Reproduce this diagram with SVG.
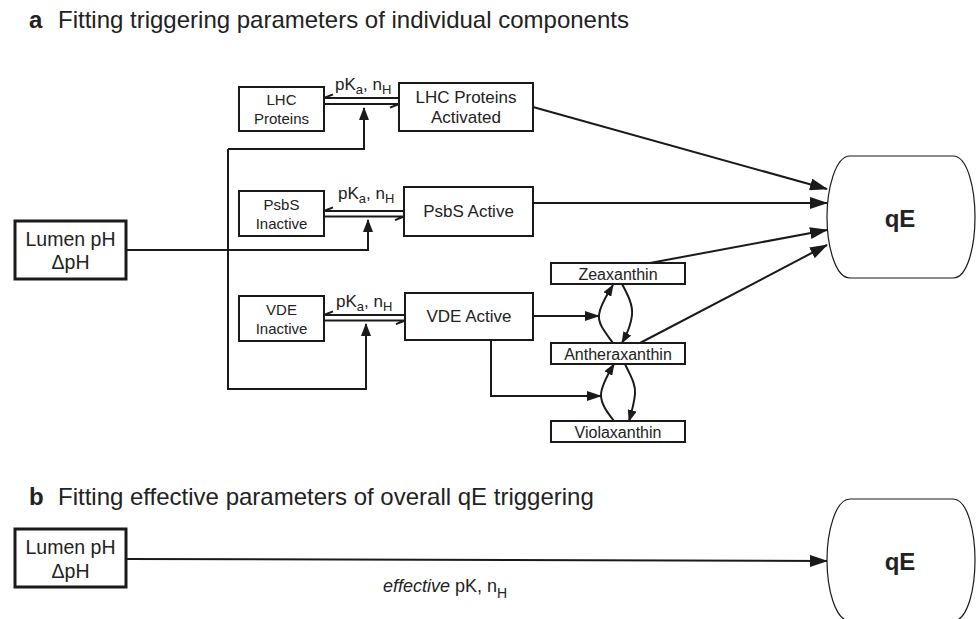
<svg xmlns="http://www.w3.org/2000/svg" width="976" height="619" viewBox="0 0 976 619">
<style>
text{font-family:"Liberation Sans",Arial,sans-serif;fill:#222}
.box{fill:#fff;stroke:#1a1a1a;stroke-width:2}
.thick{fill:#fff;stroke:#1a1a1a;stroke-width:3}
.qe{fill:#fff;stroke:#1a1a1a;stroke-width:1.2}
.ln{fill:none;stroke:#1a1a1a;stroke-width:2}
.s15{font-size:15px;text-anchor:middle}
.s16{font-size:16px;text-anchor:middle}
.s17{font-size:17px;text-anchor:middle}
.s19{font-size:19.5px;text-anchor:middle}
.ttl{font-size:24px}
.qet{font-size:24px;font-weight:bold;text-anchor:middle}
.pk{font-size:17px}
</style>
<defs>
<marker id="big" markerUnits="userSpaceOnUse" markerWidth="18" markerHeight="12" refX="17" refY="6" orient="auto"><path d="M0,0 L18,6 L0,12 z" fill="#1a1a1a"/></marker>
<marker id="mid" markerUnits="userSpaceOnUse" markerWidth="15" markerHeight="10" refX="14" refY="5" orient="auto"><path d="M0,0 L15,5 L0,10 z" fill="#1a1a1a"/></marker>
<marker id="up" markerUnits="userSpaceOnUse" markerWidth="13" markerHeight="10" refX="12" refY="5" orient="auto"><path d="M0,0 L13,5 L0,10 z" fill="#1a1a1a"/></marker>
<marker id="sm" markerUnits="userSpaceOnUse" markerWidth="12" markerHeight="9" refX="11" refY="4.5" orient="auto"><path d="M0,0 L12,4.5 L0,9 z" fill="#1a1a1a"/></marker>
</defs>

<text x="29" y="28" class="ttl" font-weight="bold">a</text>
<text x="58" y="28" class="ttl">Fitting triggering parameters of individual components</text>
<text x="29" y="505" class="ttl" font-weight="bold">b</text>
<text x="58" y="505" class="ttl">Fitting effective parameters of overall qE triggering</text>

<g id="connectors">
<!-- Lumen a to branches -->
<path class="ln" d="M126,250 H368 V220" marker-end="url(#up)"/>
<path class="ln" d="M228,149 H364 V108" marker-end="url(#up)"/>
<path class="ln" d="M228,149 V389 H366 V324" marker-end="url(#up)"/>
<!-- LHC equilibrium -->
<path class="ln" d="M324,98 H399 M324,98 L333,94.3"/>
<path class="ln" d="M324,104 H399 M399,104 L390,107.7"/>
<!-- PsbS equilibrium -->
<path class="ln" d="M324,211 H404 M324,211 L333,207.3"/>
<path class="ln" d="M324,216.5 H404 M404,216.5 L395,220.2"/>
<!-- VDE equilibrium -->
<path class="ln" d="M324,315 H405 M324,315 L333,311.3"/>
<path class="ln" d="M324,320.5 H405 M405,320.5 L396,324.2"/>
<!-- to qE -->
<path class="ln" d="M533,107 L827,189" marker-end="url(#big)"/>
<path class="ln" d="M533,203 L827,203" marker-end="url(#big)"/>
<path class="ln" d="M650,263 L827,230" marker-end="url(#big)"/>
<path class="ln" d="M640,343 L827,245" marker-end="url(#big)"/>
<!-- VDE active to xanthophyll cycle -->
<path class="ln" d="M533,316 L599,316" marker-end="url(#mid)"/>
<path class="ln" d="M491,340 V396 H601" marker-end="url(#mid)"/>
<!-- cycle curves -->
<path class="ln" d="M613,343 C605,332 598,324 599,315 C600,305 607,295 613,285" marker-end="url(#sm)"/>
<path class="ln" d="M622,284 C628,295 633,305 632,315 C631,326 627,334 622,343" marker-end="url(#sm)"/>
<path class="ln" d="M614,421 C607,412 601,404 601,395 C601,386 608,374 614,364" marker-end="url(#sm)"/>
<path class="ln" d="M625,364 C630,375 636,384 635,394 C634,404 632,411 629,421" marker-end="url(#sm)"/>
<!-- b -->
<path class="ln" d="M126,559 L827,561" marker-end="url(#big)"/>
<text x="383" y="592" style="font-size:18px"><tspan font-style="italic">effective</tspan> pK, n<tspan dy="6" font-size="14">H</tspan></text>
</g>

<g id="lumen-a">
<rect class="thick" x="15" y="221" width="111" height="58"/>
<text x="70.5" y="246" class="s19">Lumen pH</text>
<text x="70.5" y="269" class="s19">ΔpH</text>
</g>

<g id="lhc">
<rect class="box" x="239" y="87" width="85" height="44"/>
<text x="281.5" y="105" class="s15">LHC</text>
<text x="281.5" y="124" class="s15">Proteins</text>
</g>
<g id="lhc-label"><text x="335" y="90" class="pk">pK<tspan dy="4" font-size="13">a</tspan><tspan dy="-4">, n</tspan><tspan dy="4" font-size="13">H</tspan></text></g>
<g id="lhc-act">
<rect class="box" x="399" y="83" width="134" height="48"/>
<text x="466" y="103" class="s17">LHC Proteins</text>
<text x="466" y="123" class="s17">Activated</text>
</g>

<g id="psbs">
<rect class="box" x="239" y="191" width="85" height="45"/>
<text x="281.5" y="210" class="s15">PsbS</text>
<text x="281.5" y="229" class="s15">Inactive</text>
</g>
<g id="psbs-label"><text x="338" y="199" class="pk">pK<tspan dy="4" font-size="13">a</tspan><tspan dy="-4">, n</tspan><tspan dy="4" font-size="13">H</tspan></text></g>
<g id="psbs-act">
<rect class="box" x="404" y="187" width="129" height="49"/>
<text x="468.5" y="217" class="s17">PsbS Active</text>
</g>

<g id="vde">
<rect class="box" x="239" y="296" width="85" height="45"/>
<text x="281.5" y="315" class="s15">VDE</text>
<text x="281.5" y="334" class="s15">Inactive</text>
</g>
<g id="vde-label"><text x="336" y="307" class="pk">pK<tspan dy="4" font-size="13">a</tspan><tspan dy="-4">, n</tspan><tspan dy="4" font-size="13">H</tspan></text></g>
<g id="vde-act">
<rect class="box" x="405" y="293" width="128" height="47"/>
<text x="469" y="322" class="s17">VDE Active</text>
</g>

<g id="zea">
<rect class="box" x="551" y="263" width="134" height="21"/>
<text x="618" y="280" class="s16">Zeaxanthin</text>
</g>
<g id="anthera">
<rect class="box" x="551" y="343" width="134" height="21"/>
<text x="618" y="360" class="s16">Antheraxanthin</text>
</g>
<g id="viola">
<rect class="box" x="551" y="421" width="134" height="21"/>
<text x="618" y="438" class="s16">Violaxanthin</text>
</g>

<g id="qe-a">
<path class="qe" d="M850,156 H953 C968,156 975,190 975,217 C975,245 968,278 953,278 H850 C835,278 827,245 827,217 C827,190 835,156 850,156 Z"/>
<text x="900" y="227" class="qet">qE</text>
</g>

<g id="lumen-b">
<rect class="thick" x="15" y="529" width="111" height="58"/>
<text x="70.5" y="554" class="s19">Lumen pH</text>
<text x="70.5" y="578" class="s19">ΔpH</text>
</g>
<g id="qe-b">
<path class="qe" d="M850,499 H953 C968,499 975,533 975,560 C975,588 968,621 953,621 H850 C835,621 827,588 827,560 C827,533 835,499 850,499 Z"/>
<text x="900" y="570" class="qet">qE</text>
</g>
</svg>
